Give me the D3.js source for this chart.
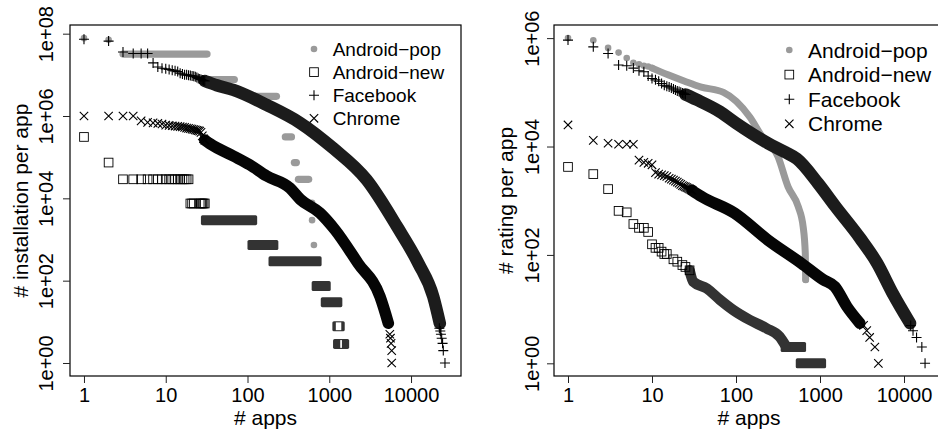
<!DOCTYPE html>
<html><head><meta charset="utf-8">
<script src="https://cdn.jsdelivr.net/npm/d3@7"></script>
<style>
body{margin:0;background:#fff;}
svg{display:block;font-family:"Liberation Sans",Arial,Helvetica,sans-serif;}
</style></head><body>
<svg id="chart" width="938" height="436"></svg>
<script>
// ---------- DATA ----------
const seriesNames = ["Android\u2212pop", "Android\u2212new", "Facebook", "Chrome"];
const seriesSymbols = ["dot", "square", "plus", "cross"];

const xTickValues = [1, 10, 100, 1000, 10000];
const xTickLabels = ["1", "10", "100", "1000", "10000"];
const leftYTickValues = [1, 1e2, 1e4, 1e6, 1e8];
const leftYTickLabels = ["1e+00", "1e+02", "1e+04", "1e+06", "1e+08"];
const rightYTickValues = [1, 1e2, 1e4, 1e6];
const rightYTickLabels = ["1e+00", "1e+02", "1e+04", "1e+06"];
const xTitle = "# apps";
const leftYTitle = "# installation per app";
const rightYTitle = "# rating per app";

// Left panel: installations per app  [rank, value]  / runs [rankStart, rankEnd, value]
const popInstPoints = [[1,7.8e7],[2,7.1e7],[616,7.8e3],[616,2.95e3],[649,735]];
const popInstRuns = [[3,32,3.2e7],[33,69,7.7e6],[105,226,3.0e6],[290,345,3.1e5],[374,396,7.4e4],[419,560,2.9e4]];

const newInstPoints = [[1,3.1e5],[2,7.4e4],
  [3,2.9e4],[4,2.9e4],[5,2.9e4],[6,2.9e4],[7,2.9e4],[8,2.9e4],[9,2.9e4],[10,2.9e4],[11,2.9e4],
  [12,2.9e4],[13,2.9e4],[14,2.9e4],[15,2.9e4],[16,2.9e4],[17,2.9e4],[18,2.9e4],[19,2.9e4],
  [20,7.5e3],[21,7.5e3],[22,7.5e3],[26,7.5e3],[27,7.5e3],[28,7.5e3],[29,7.5e3],[30,7.5e3]];
const newInstRuns = [[31,114,2950],[115,207,735],[208,700,295],[701,905,74],[906,1255,30],[1256,1342,7.8],[1280,1520,2.9]];

const fbInstPoints = [[1,7.3e7],[2,6.6e7],[3,3.6e7],[4,3.3e7],[5,3.3e7],[6,3.3e7],[7,1.95e7],[8,1.55e7],
  [9,1.45e7],[10,1.4e7],[11,1.35e7],[12,1.3e7],[13,1.25e7],[14,1.2e7],[15,1.1e7],[16,1.05e7],[17,1.0e7],
  [18,1.0e7],[19,9.8e6],[20,9.6e6],[21,9.4e6],[22,9.3e6],[23,9.0e6],[24,8.6e6],[25,8.2e6],[26,7.9e6],
  [27,7.7e6],[28,7.5e6],[29,7.3e6],[30,7.1e6],
  [22200,7],[22800,6],[23200,5],[23700,4],[24300,3],[24800,2],[26000,1]];
const fbInstBand = [[30,7.1e6],[42,5.6e6],[67,4.3e6],[171,1.86e6],[440,6.8e5],[1110,1.66e5],[2870,2.8e4],
  [6800,2.0e3],[12300,263],[18700,41],[22500,9.2]];

const chInstPoints = [[1,1e6],[2,1e6],[3,1e6],[4,1e6],[5,7.6e5],[6,7.0e5],[7,6.8e5],[8,6.6e5],[9,6.4e5],
  [10,6.0e5],[11,5.9e5],[12,5.8e5],[13,5.7e5],[14,5.6e5],[15,5.5e5],[16,5.4e5],[17,5.3e5],[18,5.1e5],
  [19,5.0e5],[20,4.9e5],[21,4.8e5],[22,4.7e5],[23,4.6e5],[24,4.5e5],[25,4.4e5],[26,4.3e5],[27,4.0e5],
  [28,3.3e5],[29,2.8e5],[30,2.6e5],
  [5500,5],[5600,4],[5700,3],[5800,2],[5800,1]];
const chInstBand = [[30,2.6e5],[35,2.1e5],[67,1.07e5],[107,6.5e4],[171,3.5e4],[330,1.78e4],[440,9.5e3],
  [770,4.4e3],[1180,1.7e3],[2250,263],[4170,41],[5280,9.2]];

// Right panel: ratings per app
const popRatePoints = [[1,1.0e6],[2,9.1e5],[3,6.6e5],[4,5.4e5],[5,4.3e5],[6,3.5e5],[7,3.3e5],[8,3.1e5],
  [9,3.0e5],[10,2.8e5],[675,35]];
const popRateBand = [[10,2.8e5],[15.5,2.1e5],[24.5,1.6e5],[38.6,1.25e5],[71,1.0e5],[146,3.5e4],[200,1.6e4],
  [316,6.5e3],[417,1.8e3],[550,780],[630,330],[668,107],[675,35]];

const newRatePoints = [[1,4.2e3],[2,3.1e3],[3,1.64e3],[4,650],[5,610],[6,372],[7,316],[8,316],[9,265],
  [10,157],[11,135],[12,135],[13,115],[14,104],[15,104],[18,83],[20,75],[23,65],[25,60],[28,52]];
const newRateBand = [[28,52],[31,32],[45,24],[64,15],[93,9.6],[146,6.3],[232,4.4],[330,3.1],[390,2.1]];
const newRateRuns = [[390,595,2],[590,1030,1]];

const fbRatePoints = [[1,9.2e5],[2,6.9e5],[3,5.2e5],[4,3.2e5],[5,3.1e5],[6,2.8e5],[7,2.5e5],[8,2.4e5],
  [9,2.0e5],[10,1.8e5],[11,1.7e5],[12,1.6e5],[13,1.45e5],[14,1.35e5],[15,1.3e5],[16,1.25e5],[17,1.2e5],
  [18,1.15e5],[19,1.1e5],[20,1.06e5],[21,1.03e5],[22,1.0e5],[23,9.7e4],[24,9.4e4],[25,9.1e4],
  [12000,5],[12800,4],[14100,3],[16300,2],[17800,1]];
const fbRateBand = [[25,9.1e4],[34,7.3e4],[64,4.4e4],[100,2.7e4],[240,1.15e4],[383,7.9e3],[532,5.9e3],
  [946,2.1e3],[1510,798],[2990,205],[4770,71],[7400,19],[11800,5.5]];

const chRatePoints = [[1,2.5e4],[2,1.3e4],[3,1.15e4],[4,1.1e4],[5,1.1e4],[6,1.1e4],[7,5.6e3],[8,5.1e3],
  [9,4.9e3],[10,4.6e3],[11,3.3e3],[12,3.1e3],[13,3.0e3],[14,2.9e3],[15,2.8e3],[16,2.6e3],[17,2.5e3],
  [18,2.4e3],[19,2.3e3],[20,2.2e3],[21,2.1e3],[22,2.0e3],[23,1.9e3],[24,1.85e3],[25,1.8e3],[26,1.75e3],
  [27,1.7e3],[28,1.65e3],[29,1.6e3],[30,1.55e3],
  [3300,5],[3600,4],[3900,3],[4500,2],[4950,1]];
const chRateBand = [[30,1.55e3],[38.6,1.2e3],[96,590],[240,188],[600,70],[1090,35],[1500,26],[2100,11],[2980,5.5]];

// ---------- DRAWING ----------
const svg = d3.select("#chart");
const COL = {pop: "#9a9a9a", newDense: "#333333", fb: "#1c1c1c", ch: "#050505"};

function symbolPath(type, x, y) {
  if (type === "plus") return `M${x-5},${y}H${x+5}M${x},${y-5}V${y+5}`;
  if (type === "cross") return `M${x-4.2},${y-4.2}L${x+4.2},${y+4.2}M${x-4.2},${y+4.2}L${x+4.2},${y-4.2}`;
  return "";
}
function drawSymbol(g, type, x, y) {
  if (type === "dot") g.append("circle").attr("cx", x).attr("cy", y).attr("r", 3.3).attr("fill", COL.pop);
  else if (type === "square") g.append("rect").attr("x", x-4.35).attr("y", y-4.35).attr("width", 8.7).attr("height", 8.7)
      .attr("fill", "none").attr("stroke", "#000").attr("stroke-width", 0.9);
  else g.append("path").attr("d", symbolPath(type, x, y)).attr("fill", "none").attr("stroke", "#000").attr("stroke-width", 1.1);
}

function makePanel(cfg) {
  const x = d3.scaleLog().domain(cfg.xDom).range([cfg.x0, cfg.x1]);
  const y = d3.scaleLog().domain(cfg.yDom).range([cfg.y1, cfg.y0]);
  const g = svg.append("g");
  const clipId = "clip" + cfg.id;
  svg.append("clipPath").attr("id", clipId).append("rect")
    .attr("x", cfg.x0).attr("y", cfg.y0).attr("width", cfg.x1 - cfg.x0).attr("height", cfg.y1 - cfg.y0);
  const plot = g.append("g").attr("clip-path", `url(#${clipId})`);

  const line = d3.line().x(d => x(d[0])).y(d => y(d[1])).curve(d3.curveMonotoneX);

  function band(data, color, w) {
    plot.append("path").datum(data).attr("d", line).attr("fill", "none").attr("stroke", color)
      .attr("stroke-width", w).attr("stroke-linecap", "round").attr("stroke-linejoin", "round");
  }
  function popRuns(data) {
    const h = 3.6;
    plot.selectAll(null).data(data).enter().append("rect")
      .attr("x", d => x(d[0]) - h).attr("width", d => x(d[1]) - x(d[0]) + 2*h)
      .attr("y", d => y(d[2]) - h).attr("height", 2*h).attr("rx", h).attr("fill", COL.pop);
  }
  function squareRuns(data) {
    const h = 5.0, lw = 1.1;
    data.forEach(d => {
      const xa = x(d[0]), xb = x(d[1]), yy = y(d[2]);
      plot.append("rect").attr("x", xa - h).attr("width", xb - xa + 2*h).attr("y", yy - h).attr("height", 2*h)
        .attr("rx", 1.6).attr("fill", COL.newDense);
      const inL = xb - h + lw, inR = xa + h - lw;
      if (inR - inL > 0.3) {
        plot.append("rect").attr("x", inL).attr("width", inR - inL).attr("y", yy - h + lw).attr("height", 2*(h - lw))
          .attr("fill", "#fff");
      }
    });
  }
  function points(data, type) {
    data.forEach(d => drawSymbol(plot, type, x(d[0]), y(d[1])));
  }

  // Android-pop
  if (cfg.popRuns) popRuns(cfg.popRuns);
  if (cfg.popBand) band(cfg.popBand, COL.pop, 7);
  points(cfg.popPoints, "dot");
  // Android-new
  if (cfg.newRuns) squareRuns(cfg.newRuns);
  if (cfg.newBand) band(cfg.newBand, COL.newDense, 10.5);
  points(cfg.newPoints, "square");
  // Facebook
  band(cfg.fbBand, COL.fb, 12.5);
  points(cfg.fbPoints, "plus");
  // Chrome
  band(cfg.chBand, COL.ch, 11.5);
  points(cfg.chPoints, "cross");

  // box
  g.append("rect").attr("x", cfg.x0).attr("y", cfg.y0).attr("width", cfg.x1 - cfg.x0).attr("height", cfg.y1 - cfg.y0)
    .attr("fill", "none").attr("stroke", "#000").attr("stroke-width", 1.2);

  // x axis
  const xa = g.append("g").attr("transform", `translate(0,${cfg.y1})`)
    .call(d3.axisBottom(x).tickValues(xTickValues).tickFormat((d, i) => xTickLabels[i]).tickSize(7).tickSizeOuter(0));
  xa.select(".domain").remove();
  xa.selectAll("line").attr("stroke", "#222");
  xa.selectAll("text").attr("dy", null).attr("y", 25.7).attr("font-size", 20).attr("fill", "#000")
    .attr("font-family", '"Liberation Sans", Arial, sans-serif');

  // y axis
  const ya = g.append("g").attr("transform", `translate(${cfg.x0},0)`)
    .call(d3.axisLeft(y).tickValues(cfg.yTickValues).tickFormat((d, i) => cfg.yTickLabels[i]).tickSize(7).tickSizeOuter(0));
  ya.select(".domain").remove();
  ya.selectAll("line").attr("stroke", "#222");
  ya.selectAll("text").attr("dy", null).attr("x", null).attr("text-anchor", "middle")
    .attr("transform", `translate(${-cfg.yLabOff},0) rotate(-90)`).attr("font-size", 20).attr("fill", "#000")
    .attr("font-family", '"Liberation Sans", Arial, sans-serif');

  // titles
  g.append("text").attr("x", (cfg.x0 + cfg.x1) / 2).attr("y", 424.5).attr("text-anchor", "middle")
    .attr("font-size", 21).text(xTitle);
  g.append("text").attr("transform", `translate(${cfg.yTitleX},${(cfg.y0 + cfg.y1) / 2}) rotate(-90)`)
    .attr("text-anchor", "middle").attr("font-size", 21).text(cfg.yTitle);

  // legend
  const lg = g.append("g");
  seriesNames.forEach((name, i) => {
    const yy = cfg.legY0 + i * cfg.legDy;
    drawSymbol(lg, seriesSymbols[i], cfg.legSymX, yy);
    lg.append("text").attr("x", cfg.legTextX).attr("y", yy + 0.36 * cfg.legFont)
      .attr("font-size", cfg.legFont).text(name);
  });
}

makePanel({
  id: "L", x0: 70, x1: 461, y0: 25, y1: 376,
  xDom: [Math.pow(10, -0.171), Math.pow(10, 4.611)], yDom: [Math.pow(10, -0.316), Math.pow(10, 8.211)],
  yTickValues: leftYTickValues, yTickLabels: leftYTickLabels, yLabOff: 16.7,
  yTitle: leftYTitle, yTitleX: 28,
  popPoints: popInstPoints, popRuns: popInstRuns,
  newPoints: newInstPoints, newRuns: newInstRuns,
  fbPoints: fbInstPoints, fbBand: fbInstBand,
  chPoints: chInstPoints, chBand: chInstBand,
  legSymX: 314, legTextX: 332.7, legY0: 49, legDy: 23.1, legFont: 19
});

makePanel({
  id: "R", x0: 554, x1: 944, y0: 25, y1: 376,
  xDom: [Math.pow(10, -0.1667), Math.pow(10, 4.476)], yDom: [Math.pow(10, -0.234), Math.pow(10, 6.242)],
  yTickValues: rightYTickValues, yTickLabels: rightYTickLabels, yLabOff: 15.5,
  yTitle: rightYTitle, yTitleX: 512.5,
  popPoints: popRatePoints, popBand: popRateBand,
  newPoints: newRatePoints, newBand: newRateBand, newRuns: newRateRuns,
  fbPoints: fbRatePoints, fbBand: fbRateBand,
  chPoints: chRatePoints, chBand: chRateBand,
  legSymX: 789.3, legTextX: 808, legY0: 50, legDy: 24.6, legFont: 21
});
</script></body></html>
